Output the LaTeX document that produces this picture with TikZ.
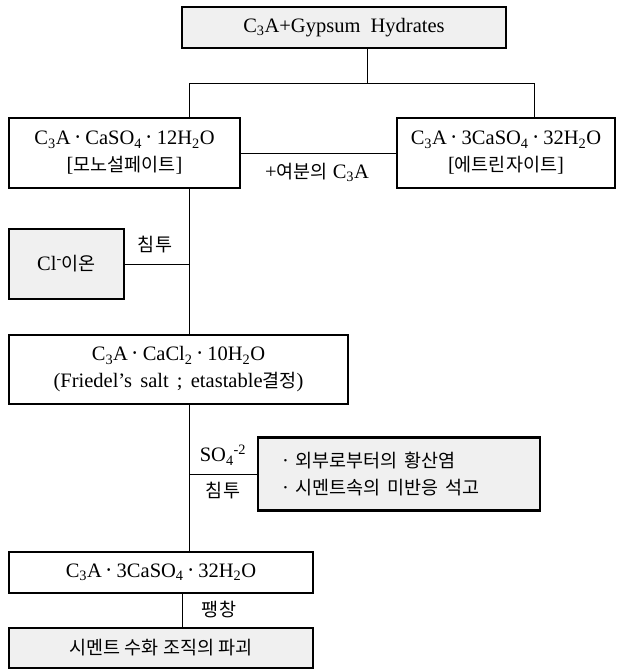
\documentclass[tikz,border=0pt]{standalone}
\usepackage{fontspec}
\setmainfont{Liberation Serif}
\newfontfamily\kr{Noto Sans CJK KR}
\newcommand{\kt}[1]{{\kr\fontsize{18.5}{27}\selectfont #1}}
\newcommand{\dt}{\kern0.08em{\kr·}\kern0.08em}
\definecolor{gbox}{HTML}{F0F0F0}
\begin{document}
\begin{tikzpicture}[x=1pt,y=-1pt,
  bx/.style={draw, line width=2.6pt, inner sep=0pt, align=center, font=\fontsize{20.5}{27}\selectfont},
  ln/.style={line width=0.8pt},
  lab/.style={inner sep=0pt, font=\fontsize{20.5}{27}\selectfont}]
\useasboundingbox (0,0) rectangle (618,670);

\node[bx, fill=gbox, minimum width=324pt, minimum height=41pt] (top) at (344,27.5)
  {C\textsubscript{3}A+Gypsum\hspace{0.5em}Hydrates};
\node[bx, minimum width=231pt, minimum height=70pt] (mono) at (124.5,153)
  {C\textsubscript{3}A\dt CaSO\textsubscript{4}\dt 12H\textsubscript{2}O\\{}[\kt{모노설페이트}]};
\node[bx, minimum width=218pt, minimum height=70pt] (ett) at (506,153)
  {C\textsubscript{3}A\dt 3CaSO\textsubscript{4}\dt 32H\textsubscript{2}O\\{}[\kt{에트린자이트}]};
\node[bx, fill=gbox, minimum width=115pt, minimum height=70pt] (cl) at (66.5,264)
  {Cl\textsuperscript{-}\kt{이온}};
\node[bx, minimum width=339pt, minimum height=69pt] (cacl) at (178.5,369.5)
  {C\textsubscript{3}A\dt CaCl\textsubscript{2}\dt 10H\textsubscript{2}O\\(Friedel's\hspace{0.4em}salt\hspace{0.4em};\hspace{0.4em}etastable\kt{결정})};
\node[bx, fill=gbox, align=left, text width=234pt, inner xsep=24pt, minimum height=73pt] (so4) at (399,474)
  {·\ \kt{외부로부터의 황산염}\\·\ \kt{시멘트속의 미반응 석고}};
\node[bx, minimum width=304pt, minimum height=41pt] (b1) at (161,572.5)
  {C\textsubscript{3}A\dt 3CaSO\textsubscript{4}\dt 32H\textsubscript{2}O};
\node[bx, fill=gbox, minimum width=304pt, minimum height=40pt] (fin) at (161,648)
  {\kt{시멘트 수화 조직의 파괴}};

\node[lab] (l1) at (317,172) {+\kt{여분의}\ C\textsubscript{3}A};
\node[lab] (l2) at (155,245) {\kt{침투}};
\node[lab] (l3) at (223,455) {SO\textsubscript{4}\textsuperscript{-2}};
\node[lab] (l4) at (223,491) {\kt{침투}};
\node[lab] (l5) at (219,610) {\kt{팽창}};

\coordinate (j1) at (367,83);
\coordinate (jl) at (189,83);
\coordinate (jr) at (534,83);
\coordinate (jb) at (182,600);

\draw[ln] (top.south -| j1) -- (j1);
\draw[ln] (mono.north -| jl) -- (jl) -- (jr) -- (ett.north -| jr);
\draw[ln] (mono) -- (ett);
\draw[ln] (mono.south -| jl) -- (cacl.north -| jl);
\draw[ln] (cl) -- (cl -| jl);
\draw[ln] (cacl.south -| jl) -- (b1.north -| jl);
\draw[ln] (so4.west -| jl) -- (so4.west);
\draw[ln] (b1.south -| jb) -- (fin.north -| jb);
\end{tikzpicture}
\end{document}
